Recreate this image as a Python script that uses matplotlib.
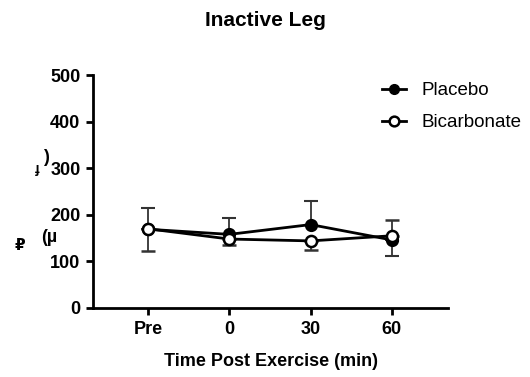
import matplotlib.pyplot as plt
from matplotlib.lines import Line2D
import numpy as np

plt.rcParams['font.family'] = ['Liberation Sans', 'DejaVu Sans']

# data
times = ['Pre', '0', '30', '60']
placebo = [169, 158, 179, 146]
placebo_err_lo = [0, 0, 0, 34]
placebo_err_hi = [45, 36, 51, 0]
bicarb = [170, 148, 144, 155]
bicarb_err_lo = [48, 12, 20, 0]
bicarb_err_hi = [0, 0, 0, 33]

W, H = 530, 377
fig = plt.figure(figsize=(W / 100, H / 100), dpi=100)
ax = fig.add_axes([93 / W, 1 - 308 / H, (448 - 93) / W, (308 - 75) / H])

x = np.arange(len(times))
ecol = '#333333'
ax.errorbar(x, placebo, yerr=[placebo_err_lo, placebo_err_hi], color='k', lw=2,
            marker='o', ms=8, mfc='k', mec='k', mew=1.5, ecolor=ecol, elinewidth=1.3,
            capsize=5, capthick=1.3, zorder=3)
ax.errorbar(x, bicarb, yerr=[bicarb_err_lo, bicarb_err_hi], color='k', lw=2,
            marker='o', ms=8, mfc='white', mec='k', mew=1.8, ecolor=ecol, elinewidth=1.3,
            capsize=5, capthick=1.3, zorder=4)

ax.set_xlim(-0.676, 3.69)
ax.set_ylim(0, 500)
ax.set_xticks(x)
ax.set_xticklabels(times)
ax.set_yticks([0, 100, 200, 300, 400, 500])
for s in ['top', 'right']:
    ax.spines[s].set_visible(False)
for s in ['left', 'bottom']:
    ax.spines[s].set_linewidth(2)
ax.tick_params(axis='both', width=2, length=5, labelsize=13, pad=4)
for lab in ax.get_xticklabels() + ax.get_yticklabels():
    lab.set_fontweight('bold')

ax.set_xlabel('Time Post Exercise (min)', fontsize=13, fontweight='bold', labelpad=11)
fig.text(265 / W, 1 - 21 / H, 'Inactive Leg', fontsize=15, fontweight='bold',
         ha='center', va='center')

# broken y-axis label fragments as they appear
fig.text(49 / W, 1 - 238 / H, '(µ', fontsize=13, fontweight='bold', ha='center', va='center')
fig.text(46 / W, 1 - 157 / H, ')', fontsize=13, fontweight='bold', ha='center', va='center')
fig.text(37 / W, 1 - 169 / H, 'ɟ', fontsize=10, fontweight='bold', ha='center', va='center')
fig.text(20 / W, 1 - 246 / H, '₽', fontsize=11, fontweight='bold', ha='center', va='center')

handles = [Line2D([], [], color='k', lw=2, marker='o', ms=7, mfc='k', mec='k'),
           Line2D([], [], color='k', lw=2, marker='o', ms=7, mfc='white', mec='k', mew=1.8)]
ax.legend(handles, ['Placebo', 'Bicarbonate'], loc='upper left',
          bbox_to_anchor=(382 / W, 1 - 82 / H), bbox_transform=fig.transFigure,
          frameon=False, fontsize=13.5, handlelength=1.3, handletextpad=0.8,
          labelspacing=0.8, borderpad=0, borderaxespad=0)

fig.savefig('out.png', dpi=100)
